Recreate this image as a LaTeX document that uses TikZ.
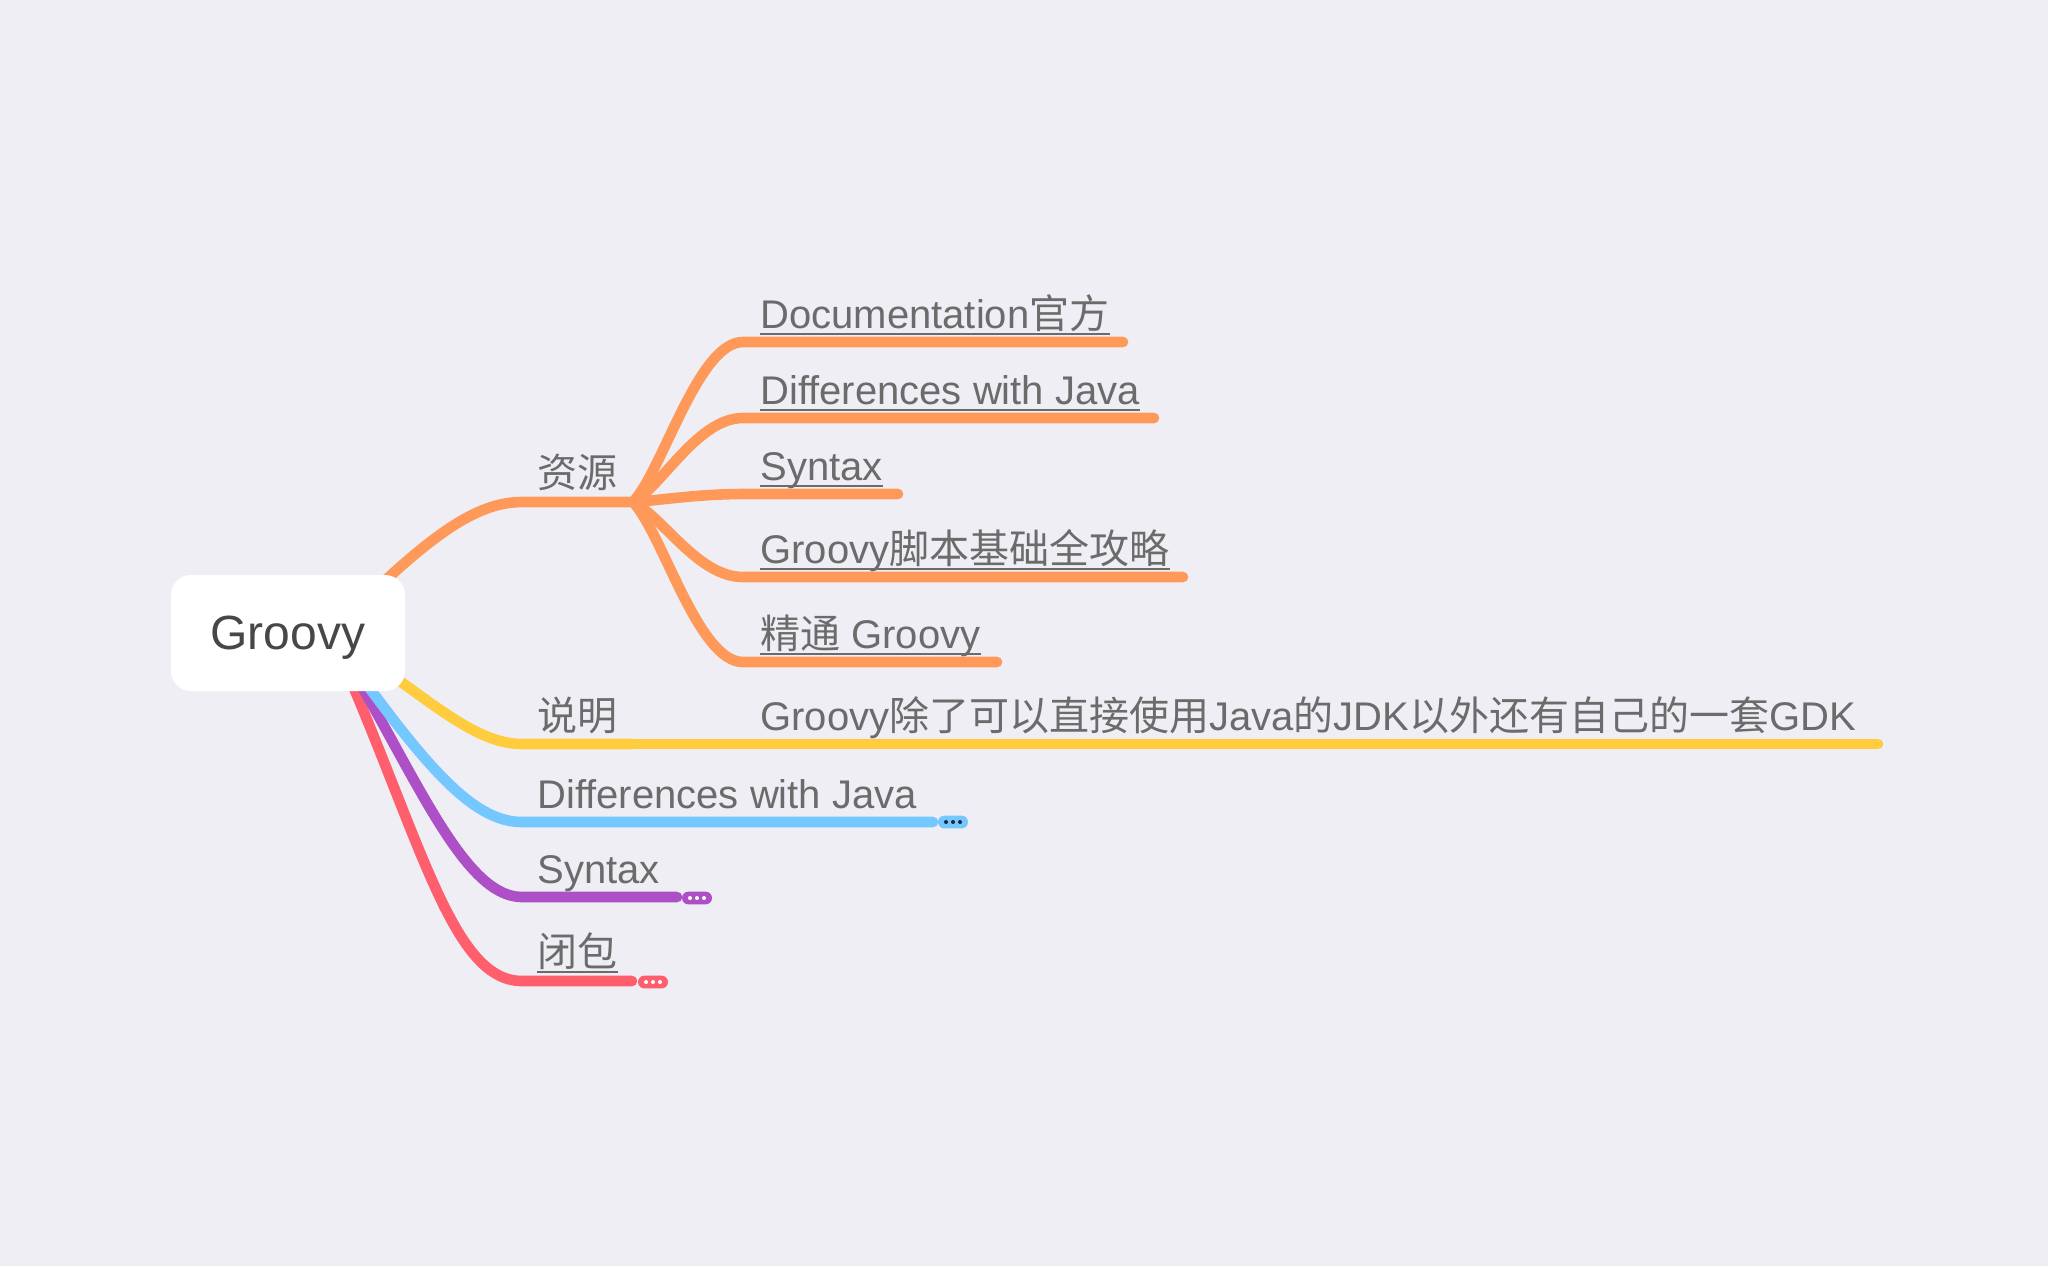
\documentclass[tikz,border=0pt]{standalone}
\usepackage{fontspec}
\setmainfont{Liberation Sans}
\newfontfamily\cjk{Noto Sans CJK SC}

\definecolor{bgc}{HTML}{EFEEF4}
\definecolor{txt}{HTML}{6B6B6B}
\definecolor{rootc}{HTML}{474747}
\definecolor{orn}{HTML}{FF995A}
\definecolor{ylw}{HTML}{FFCC3E}
\definecolor{blu}{HTML}{74C7FF}
\definecolor{prp}{HTML}{AD4FC6}
\definecolor{rd}{HTML}{FF5E6C}
\definecolor{dotc}{HTML}{1B2A3A}

\tikzset{
  wire/.style={line width=5.3pt, line cap=round},
  lbl/.style={anchor=base west, inner sep=0pt, text=txt, font=\fontsize{20}{24}\selectfont},
  link/.style={lbl, append after command={([yshift=-3pt]\tikzlastnode.base west) edge[draw=txt, line width=1pt] ([yshift=-3pt]\tikzlastnode.base east)}},
  more/.style={rounded corners=3.2pt, minimum width=15pt, minimum height=6.4pt, inner sep=0pt},
}

\begin{document}
\begin{tikzpicture}[x=0.5pt,y=-0.5pt]
\fill[bgc] (0,0) rectangle (2048,1266);

% Knickpunkte
\coordinate (core) at (330,633);
\coordinate (zy-a) at (522,502);  \coordinate (zy) at (633,502);
\coordinate (sm-a) at (522,744);  \coordinate (sm) at (633,744);
\coordinate (df-a) at (522,822);  \coordinate (df) at (933,822);
\coordinate (sx-a) at (522,897);  \coordinate (sx) at (677,897);
\coordinate (bb-a) at (522,981);  \coordinate (bb) at (632,981);

\coordinate (c1-a) at (743,342);  \coordinate (c1) at (1123,342);
\coordinate (c2-a) at (743,418);  \coordinate (c2) at (1154,418);
\coordinate (c3-a) at (743,494);  \coordinate (c3) at (898,494);
\coordinate (c4-a) at (743,577);  \coordinate (c4) at (1183,577);
\coordinate (c5-a) at (743,662);  \coordinate (c5) at (997,662);
\coordinate (c6) at (1878,744);

% Hauptzweige
\draw[wire,rd]  (core) .. controls +(90,200) and +(-72,0) .. (bb-a) -- (bb);
\draw[wire,prp] (core) .. controls +(80,127) and +(-62,0) .. (sx-a) -- (sx);
\draw[wire,blu] (core) .. controls +(90,127) and +(-52,0) .. (df-a) -- (df);
\draw[wire,ylw] (core) .. controls +(90,57) and +(-52,0) .. (sm-a) -- (sm);
\draw[wire,orn] (core) .. controls +(90,-88) and +(-52,0) .. (zy-a) -- (zy);

% Unterzweige
\draw[wire,orn] (zy) .. controls +(30,-32) and +(-45,0) .. (c1-a) -- (c1);
\draw[wire,orn] (zy) .. controls +(30,-17) and +(-45,0) .. (c2-a) -- (c2);
\draw[wire,orn] (zy) .. controls +(30,-2) and +(-45,0) .. (c3-a) -- (c3);
\draw[wire,orn] (zy) .. controls +(30,15) and +(-45,0) .. (c4-a) -- (c4);
\draw[wire,orn] (zy) .. controls +(30,32) and +(-45,0) .. (c5-a) -- (c5);
\draw[wire,ylw] (sm) -- (c6);

\node[fill=white, rounded corners=10pt, minimum width=117pt, minimum height=58pt,
      text depth=0pt, text=rootc, font=\fontsize{24}{28}\selectfont] (root) at (288,633) {Groovy};

\node[lbl]  (t-zy) at (537,487) {\cjk 资源};
\node[lbl]  (t-sm) at (537,730) {\cjk 说明};
\node[lbl]  (t-df) at (537,808) {Differences with Java};
\node[lbl]  (t-sx) at (537,883) {Syntax};
\node[link] (t-bb) at (537,966) {\cjk 闭包};

\node[link] (t-c1) at (760,328) {Documentation{\cjk 官方}};
\node[link] (t-c2) at (760,404) {Differences with Java};
\node[link] (t-c3) at (760,480) {Syntax};
\node[link] (t-c4) at (760,563) {Groovy{\cjk 脚本基础全攻略}};
\node[link] (t-c5) at (760,648) {{\cjk 精通} Groovy};
\node[lbl]  (t-c6) at (760,730) {Groovy{\cjk 除了可以直接使用}Java{\cjk 的}JDK{\cjk 以外还有自己的一套}GDK};

% eingeklappte Zweige
\node[more, fill=blu] (m-df) at (953,822) {};
\node[more, fill=prp] (m-sx) at (697,898) {};
\node[more, fill=rd]  (m-bb) at (653,982) {};
\foreach \d in {-7,0,7} {
  \fill[dotc]  (m-df.center) ++(\d,0) circle (2);
  \fill[white] (m-sx.center) ++(\d,0) circle (2);
  \fill[white] (m-bb.center) ++(\d,0) circle (2);
}
\end{tikzpicture}
\end{document}
